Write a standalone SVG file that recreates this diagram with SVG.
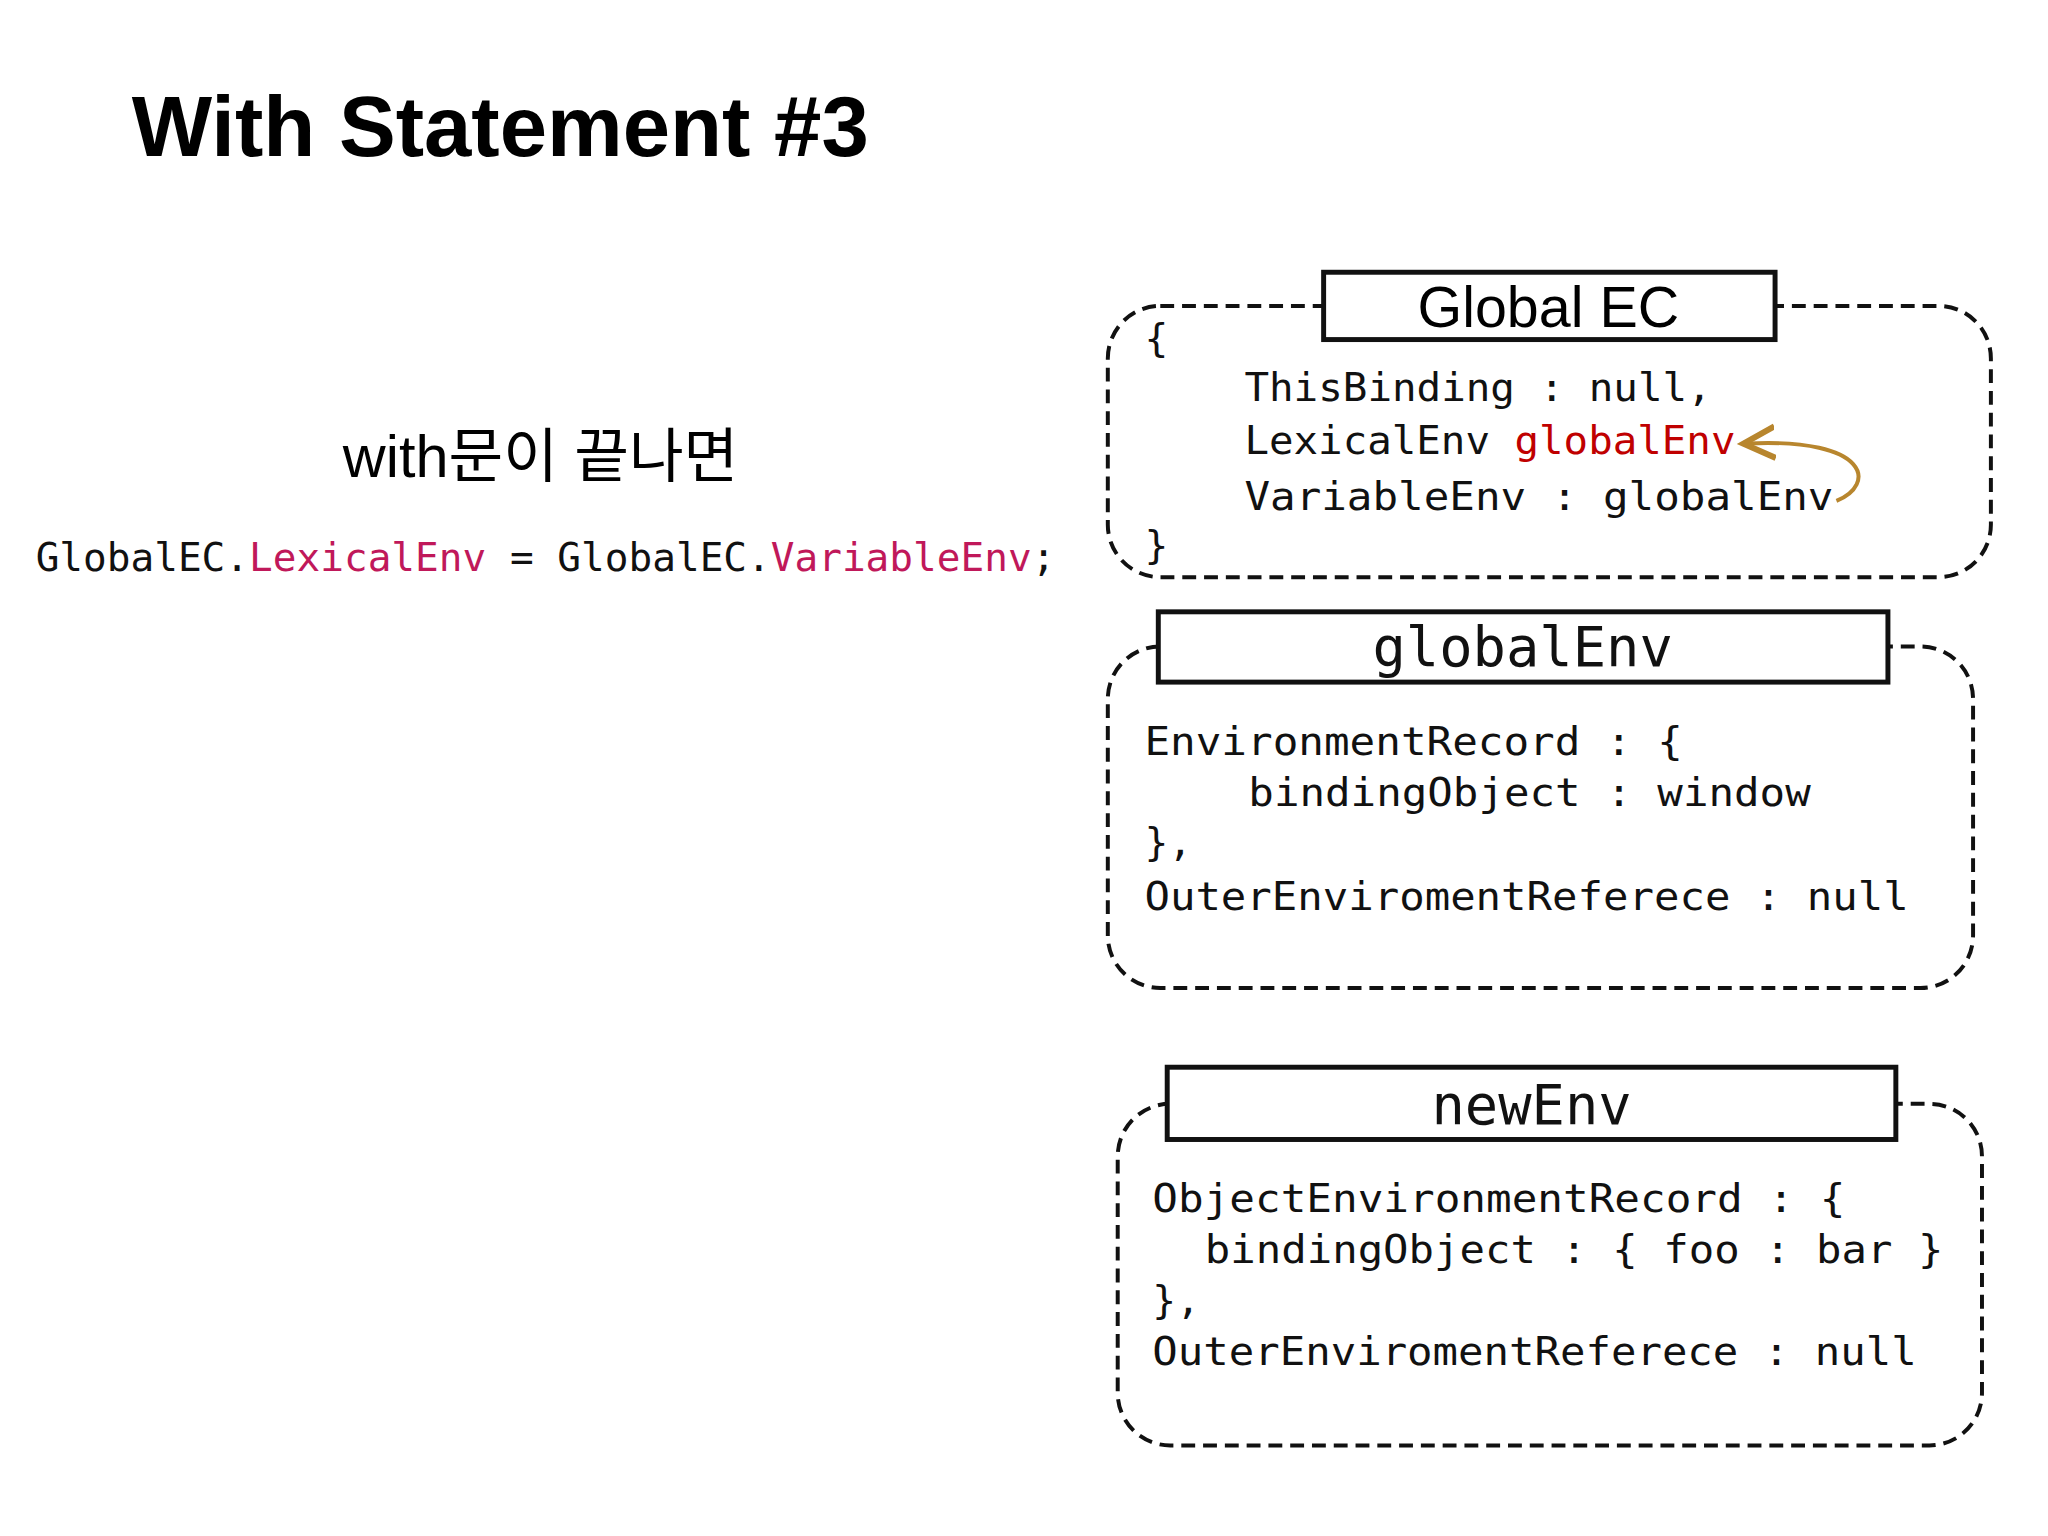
<svg xmlns="http://www.w3.org/2000/svg" width="2048" height="1536" viewBox="0 0 2048 1536">
<style>
.m{font-family:"DejaVu Sans Mono","Liberation Mono",monospace;font-size:40px;fill:#111}
.big{font-size:56px}
.box{fill:none;stroke:#111;stroke-width:4;stroke-dasharray:14 8}
.tb{fill:#fff;stroke:#111;stroke-width:5}
.r{fill:#c00000}
.p{fill:#c0185a}
</style>
<defs><marker id="ah" markerWidth="10" markerHeight="10" refX="7" refY="5" orient="auto" markerUnits="strokeWidth"><path d="M0,1 L8,5 L0,9" fill="none" stroke="#b8862e" stroke-width="1.5"/></marker></defs>
<rect width="2048" height="1536" fill="#fff"/>
<g transform="scale(0.99)">
<text x="133" y="158" font-family="Liberation Sans,Arial,sans-serif" font-weight="bold" font-size="86">With Statement #3</text>
<text x="546" y="482" text-anchor="middle" font-family="Liberation Sans,'Noto Sans CJK KR',sans-serif" font-size="60">with문이 끝나면</text>
<text class="m" x="36" y="577" textLength="1030" lengthAdjust="spacingAndGlyphs">GlobalEC.<tspan class="p">LexicalEnv</tspan> = GlobalEC.<tspan class="p">VariableEnv</tspan>;</text>
<g id="globalEC">
<rect class="box" x="1119" y="309" width="892" height="274" rx="53"/>
<rect class="tb" x="1337" y="275" width="456" height="68"/>
<text x="1564" y="330" text-anchor="middle" font-family="Liberation Sans,Arial,sans-serif" font-size="58">Global EC</text>
<text class="m" x="1156" y="356">{</text>
<text class="m" x="1257" y="405" textLength="472" lengthAdjust="spacingAndGlyphs">ThisBinding : null,</text>
<text class="m" x="1257" y="459" textLength="496" lengthAdjust="spacingAndGlyphs">LexicalEnv <tspan class="r">globalEnv</tspan></text>
<text class="m" x="1257" y="515" textLength="595" lengthAdjust="spacingAndGlyphs">VariableEnv : globalEnv</text>
<text class="m" x="1156" y="565">}</text>
</g>
<g id="globalEnv">
<rect class="box" x="1119" y="653" width="874" height="345" rx="53"/>
<rect class="tb" x="1170" y="618" width="737" height="71"/>
<text class="m big" x="1538" y="673" text-anchor="middle">globalEnv</text>
<text class="m" x="1156" y="763" textLength="544" lengthAdjust="spacingAndGlyphs">EnvironmentRecord : {</text>
<text class="m" x="1261" y="814" textLength="568" lengthAdjust="spacingAndGlyphs">bindingObject : window</text>
<text class="m" x="1156" y="865">},</text>
<text class="m" x="1156" y="919" textLength="772" lengthAdjust="spacingAndGlyphs">OuterEnviromentReferece : null</text>
</g>
<g id="newEnv">
<rect class="box" x="1129" y="1115" width="873" height="345" rx="53"/>
<rect class="tb" x="1179" y="1078" width="736" height="73"/>
<text class="m big" x="1547" y="1135" text-anchor="middle">newEnv</text>
<text class="m" x="1164" y="1224" textLength="700" lengthAdjust="spacingAndGlyphs">ObjectEnvironmentRecord : {</text>
<text class="m" x="1217" y="1276" textLength="746" lengthAdjust="spacingAndGlyphs">bindingObject : { foo : bar }</text>
<text class="m" x="1164" y="1327">},</text>
<text class="m" x="1164" y="1379" textLength="772" lengthAdjust="spacingAndGlyphs">OuterEnviromentReferece : null</text>
</g>
<g id="connectors">
<path d="M1855,506 C1895,490 1890,442 1765,448" fill="none" stroke="#b8862e" stroke-width="4" marker-end="url(#ah)"/>
</g>
</g>
</svg>
